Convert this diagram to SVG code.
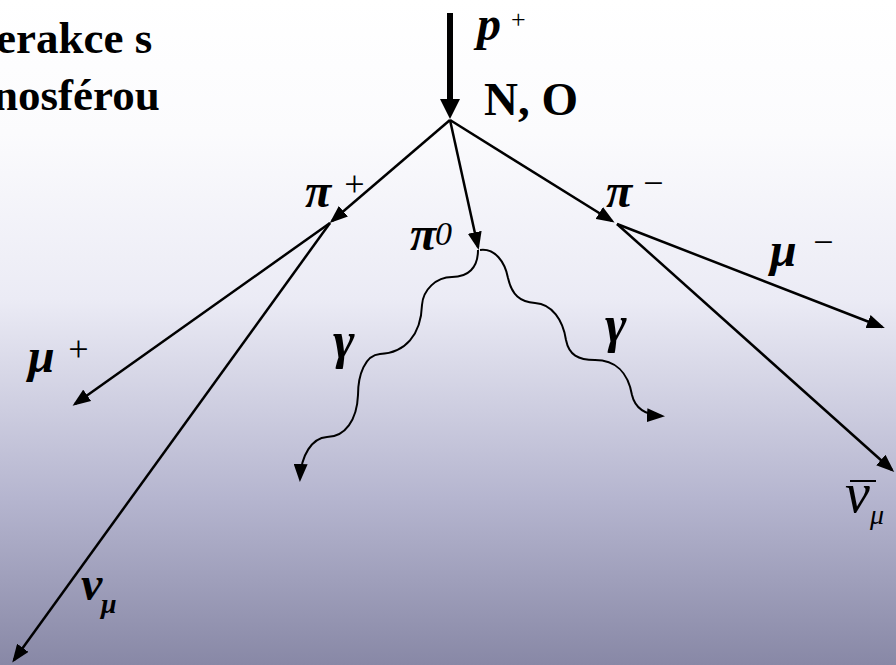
<svg xmlns="http://www.w3.org/2000/svg" width="896" height="665" viewBox="0 0 896 665">
<defs>
<linearGradient id="bg" x1="0" y1="0" x2="0" y2="1">
<stop offset="0" stop-color="#ffffff"/>
<stop offset="0.2" stop-color="#fbfbfd"/>
<stop offset="0.45" stop-color="#ebebf5"/>
<stop offset="0.75" stop-color="#b5b5cf"/>
<stop offset="1" stop-color="#8888a6"/>
</linearGradient>
<marker id="ah" markerUnits="userSpaceOnUse" markerWidth="18" markerHeight="14" refX="15" refY="7" orient="auto" viewBox="0 0 18 14">
<path d="M0,0 L18,7 L0,14 z" fill="#000"/>
</marker>
<marker id="ahBig" markerUnits="userSpaceOnUse" markerWidth="20" markerHeight="20" refX="12" refY="10" orient="auto" viewBox="0 0 20 20">
<path d="M0,0 L20,10 L0,20 z" fill="#000"/>
</marker>
</defs>
<style>
.ln{stroke:#000;stroke-width:2.5;fill:none;marker-end:url(#ah)}
.wv{stroke:#000;stroke-width:2;fill:none;marker-end:url(#ah)}
.t{font-family:"Liberation Serif","Times New Roman",serif;fill:#000}
.b{font-weight:bold}
.i{font-style:italic}
</style>
<rect x="0" y="0" width="896" height="665" fill="url(#bg)"/>

<g id="title">
<text class="t b" x="-4" y="53" font-size="45">erakce s</text>
<text class="t b" x="-7" y="110" font-size="45">nosférou</text>
</g>

<g id="connectors">
<line x1="450" y1="13" x2="450" y2="111" stroke="#000" stroke-width="6" marker-end="url(#ahBig)"/>
<line class="ln" x1="450" y1="120" x2="332" y2="221"/>
<line class="ln" x1="450" y1="120" x2="478" y2="247"/>
<line class="ln" x1="450" y1="120" x2="612" y2="221"/>
<line class="ln" x1="330" y1="223" x2="75" y2="404"/>
<line class="ln" x1="330" y1="223" x2="14" y2="660"/>
<line class="ln" x1="617" y1="224" x2="882" y2="327"/>
<line class="ln" x1="617" y1="224" x2="892" y2="470"/>
<path class="wv" d="M478 250 C478 268,468 277,452 277 C436 277,423 290,422 305 C421 335,405 353,380 354 C365 355,358 375,358 395 C357 420,345 437,327 437 C312 438,301 455,300 479"/>
<path class="wv" d="M480 250 C495 248,505 262,508 278 C512 295,520 302,535 303 C552 304,563 320,566 340 C569 355,578 360,595 360 C615 360,628 372,632 395 C635 408,645 415,662 416"/>
</g>

<g id="proton">
<text class="t b i" x="477" y="40" font-size="48">p</text>
<text class="t" x="511" y="28" font-size="26">+</text>
</g>
<g id="target">
<text class="t b" x="484" y="115" font-size="47">N, O</text>
</g>
<g id="pi-plus">
<text class="t b i" x="305" y="207" font-size="48">π</text>
<text class="t i" x="342" y="196" font-size="36">+</text>
</g>
<g id="pi-zero">
<text class="t b i" x="410" y="250" font-size="48">π</text>
<text class="t i" x="435" y="245" font-size="34">0</text>
</g>
<g id="pi-minus">
<text class="t b i" x="606" y="207" font-size="48">π</text>
<text class="t i" x="641" y="195" font-size="36">−</text>
</g>
<g id="mu-plus">
<text class="t b i" x="28" y="372" font-size="48">μ</text>
<text class="t i" x="66" y="361" font-size="36">+</text>
</g>
<g id="nu-mu">
<text class="t b i" x="81" y="600" font-size="48">ν</text>
<text class="t b i" x="101" y="613" font-size="28">μ</text>
</g>
<g id="gamma-left">
<text class="t b i" x="333" y="358" font-size="52">γ</text>
</g>
<g id="gamma-right">
<text class="t b i" x="605" y="342" font-size="52">γ</text>
</g>
<g id="mu-minus">
<text class="t b i" x="770" y="266" font-size="48">μ</text>
<text class="t i" x="811" y="254" font-size="36">−</text>
</g>
<g id="nu-bar-mu">
<line x1="850" y1="481" x2="876" y2="481" stroke="#000" stroke-width="2"/>
<text class="t i" x="845" y="512" font-size="56">ν</text>
<text class="t i" x="870" y="524" font-size="28">μ</text>
</g>
</svg>
